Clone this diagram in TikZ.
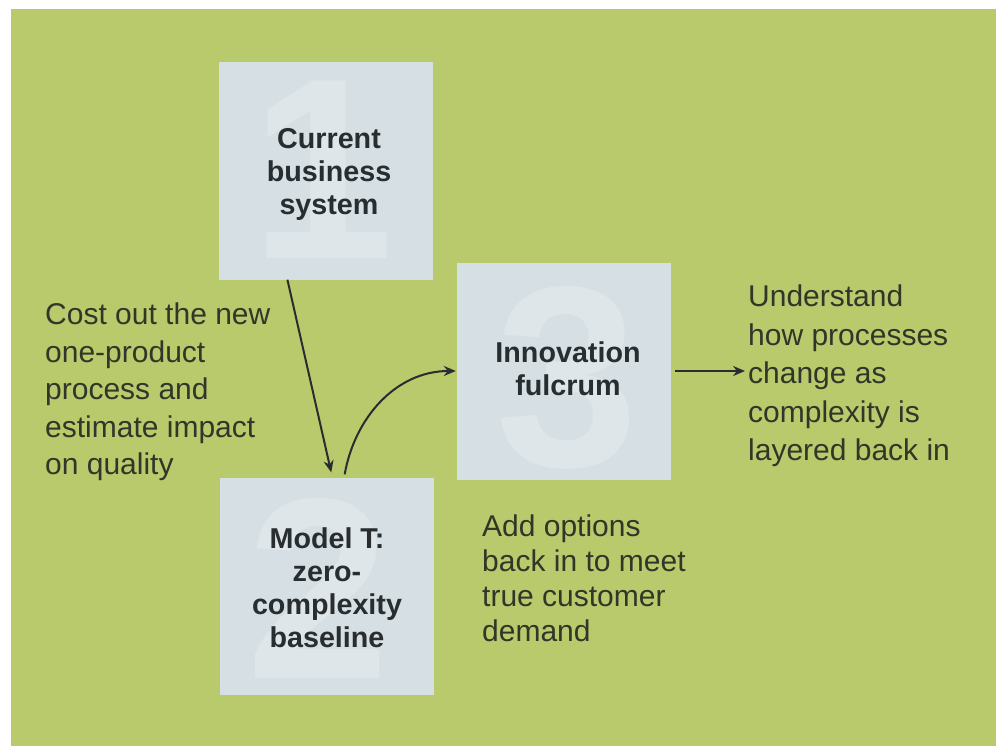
\documentclass[tikz,border=0pt]{standalone}
\usepackage{fontspec}
\setmainfont{Liberation Sans}
\usetikzlibrary{arrows.meta,calc}
\definecolor{leaf}{RGB}{184,202,108}
\definecolor{panelgrey}{RGB}{214,223,227}
\definecolor{ghostgrey}{RGB}{223,230,233}
\definecolor{ink}{RGB}{40,45,47}
\definecolor{noteink}{RGB}{48,54,40}
\tikzset{
  panel/.style={fill=panelgrey, minimum width=214pt, minimum height=217pt, inner sep=0pt},
  ghostdigit/.style={text=ghostgrey, inner sep=0pt, font=\bfseries\fontsize{258}{258}\selectfont},
  boxlabel/.style={text=ink, inner sep=0pt, align=center, font=\bfseries\fontsize{28.7}{33}\selectfont},
  annot/.style={anchor=north west, inner sep=0pt, align=left, text=noteink, font=\fontsize{30}{#1}\selectfont},
  link/.style={draw=ink, line width=2pt, -{Stealth[length=12pt,width=10pt]}}
}
\begin{document}
\begin{tikzpicture}[x=1pt,y=-1pt]
  \useasboundingbox[fill=white] (0,0) rectangle (996,746);
  \fill[leaf] (11,9) rectangle (996,746);
  % the three panels
  \node[panel] (cur) at (326,171) {};
  \node[panel] (mod) at (327,586) {};
  \node[panel] (inno) at (564,371) {};
  \node[ghostdigit] (d1) at (322,170) {1};
  \node[ghostdigit] (d2) at (318,588) {2};
  \node[ghostdigit] (d3) at (567,378) {3};
  \node[boxlabel] (curtxt) at (329,174) {Current\\business\\system};
  \node[boxlabel] (modtxt) at (327,588) {Model T:\\zero-\\complexity\\baseline};
  \node[boxlabel] (innotxt) at (568,369) {Innovation\\fulcrum};
  % notes
  \node[annot=37.5] (cost) at (45,303) {Cost out the new\\one-product\\process and\\estimate impact\\on quality};
  \node[annot=38.5] (und) at (748,285) {Understand\\how processes\\change as\\complexity is\\layered back in};
  \node[annot=35] (add) at (482,515) {Add options\\back in to meet\\true customer\\demand};
  % arrows
  \draw[link, shorten >=5pt] ($(cur.south west)!0.32!(cur.south east)$) -- ($(mod.north west)!0.525!(mod.north east)$);
  \draw[link, shorten <=3pt, shorten >=1pt] ($(mod.north west)!0.58!(mod.north east)$) to[out=80,in=180] (inno.west);
  \draw[link, shorten <=4pt, shorten >=3pt] (inno.east) -- (inno.east -| und.west);
\end{tikzpicture}
\end{document}
